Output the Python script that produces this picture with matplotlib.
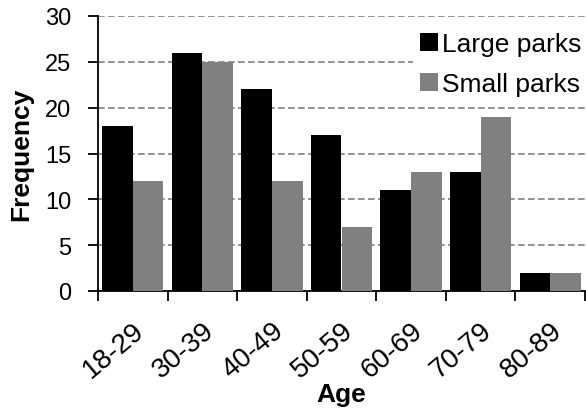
import numpy as np
import matplotlib.pyplot as plt
from matplotlib.ticker import FixedLocator

plt.rcParams['font.family'] = ['Liberation Sans', 'DejaVu Sans']

age_groups = ['18-29', '30-39', '40-49', '50-59', '60-69', '70-79', '80-89']
large_parks = [18, 26, 22, 17, 11, 13, 2]
small_parks = [12, 25, 12, 7, 13, 19, 2]

fig = plt.figure(figsize=(5.86, 4.14), dpi=100)
ax = fig.add_axes([98 / 586, 1 - 292 / 414, (585 - 98) / 586, (292 - 17) / 414])

x = np.arange(len(age_groups))
w = 0.44
ax.bar(x - w / 2, large_parks, w, color='black', label='Large parks', zorder=3)
ax.bar(x + w / 2, small_parks, w, color='#808080', label='Small parks', zorder=3)

ax.set_xlim(-0.5, len(age_groups) - 0.5)
ax.set_ylim(0, 30)
ax.set_yticks(range(0, 31, 5))
ax.yaxis.grid(True, linestyle=(0, (4, 2)), color='#808080', linewidth=1.2, zorder=0)

ax.set_xticks(x)
ax.set_xticklabels(age_groups, rotation=40, ha='right', rotation_mode='anchor')
ax.xaxis.set_minor_locator(FixedLocator(np.arange(-0.5, len(age_groups), 1)))
ax.tick_params(axis='x', which='major', length=0, pad=18.5, labelsize=20)
ax.tick_params(axis='x', which='minor', length=7, width=1.3, direction='out')
ax.tick_params(axis='y', length=7, width=1.3, direction='out', pad=12, labelsize=17)

for side in ['top', 'right']:
    ax.spines[side].set_visible(False)
for side in ['left', 'bottom']:
    ax.spines[side].set_linewidth(1.3)

ax.set_xlabel('Age', fontsize=19, fontweight='bold')
ax.set_ylabel('Frequency', fontsize=19, fontweight='bold')
ax.xaxis.set_label_coords(0.5, -0.331)
ax.yaxis.set_label_coords(-0.132, 0.5)

leg = ax.legend(loc='upper right', bbox_to_anchor=(1.008, 0.97), fontsize=19,
                frameon=True, edgecolor='none', fancybox=False,
                handlelength=0.65, handleheight=0.65, handletextpad=0.15,
                borderaxespad=0, borderpad=0.3, labelspacing=0.6)
leg.get_frame().set_alpha(1)

fig.savefig('out.png', dpi=100)
